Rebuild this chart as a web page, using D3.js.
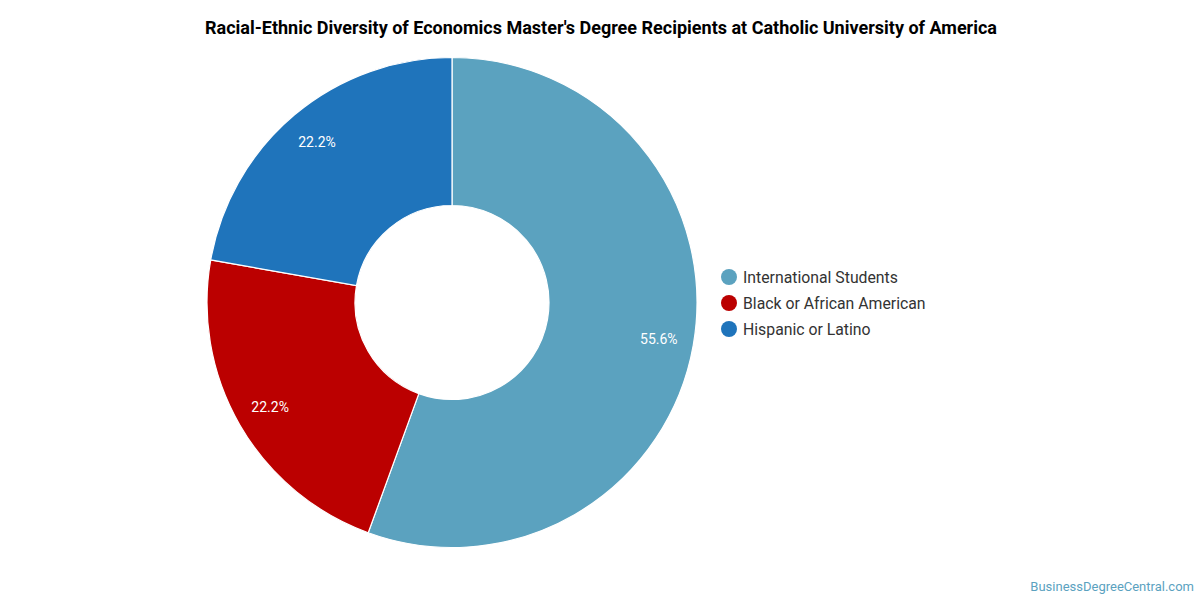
<!DOCTYPE html>
<html><head><meta charset="utf-8">
<script src="https://cdn.jsdelivr.net/npm/d3@7"></script>
<style>body{margin:0;background:#fff;font-family:Roboto,sans-serif}</style>
</head><body><svg id="c" width="1200" height="600"></svg>
<script>
const categories = ["International Students", "Black or African American", "Hispanic or Latino"];
const values = [5, 2, 2];
const colors = ["#5ba2bf", "#bb0000", "#1f74bb"];
const title = "Racial-Ethnic Diversity of Economics Master's Degree Recipients at Catholic University of America";

const svg = d3.select("#c");
svg.append("rect").attr("width",1200).attr("height",600).attr("fill","#fff");
svg.append("text").attr("x",601).attr("y",34).attr("text-anchor","middle")
  .attr("font-family","Roboto").attr("font-weight","bold").attr("font-size",18).attr("fill","#000").text(title);

const cx = 452, cy = 302.5, R = 245, r = 97;
const total = d3.sum(values);
const pie = d3.pie().sort(null).value(d => d)(values);
const arc = d3.arc().innerRadius(r).outerRadius(R);
const labelArc = d3.arc().innerRadius(210).outerRadius(210);
const g = svg.append("g").attr("transform",`translate(${cx},${cy})`);
g.selectAll("path").data(pie).join("path")
  .attr("d",arc).attr("fill",(d,i)=>colors[i]).attr("stroke","#fff").attr("stroke-width",1.2);
g.selectAll("text").data(pie).join("text")
  .attr("transform",d=>`translate(${labelArc.centroid(d)})`)
  .attr("text-anchor","middle").attr("dy","0.35em")
  .attr("font-family","Roboto").attr("font-size",14).attr("fill","#fff")
  .text(d=>(d.value/total*100).toFixed(1)+"%");

const lg = svg.append("g");
categories.forEach((c,i)=>{
  const y = 277 + i*26;
  lg.append("circle").attr("cx",729).attr("cy",y).attr("r",8).attr("fill",colors[i]);
  lg.append("text").attr("x",743).attr("y",y).attr("dy","0.35em")
    .attr("font-family","Roboto").attr("font-size",15.8).attr("fill","#333").text(c);
});
svg.append("text").attr("x",1194).attr("y",591).attr("text-anchor","end")
  .attr("font-family","Roboto").attr("font-size",13).attr("fill","#5ba2bf").text("BusinessDegreeCentral.com");
</script></body></html>
